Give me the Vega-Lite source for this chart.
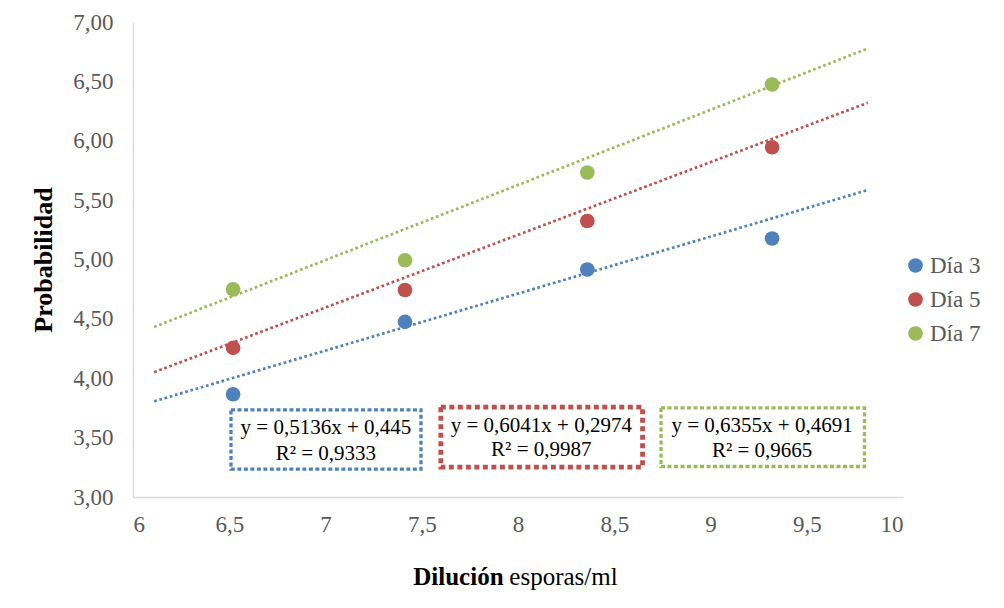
{
  "$schema": "https://vega.github.io/schema/vega-lite/v6.json",
  "width": 770,
  "height": 475,
  "autosize": {"type": "none"},
  "padding": {"left": 133, "top": 22, "right": 101, "bottom": 111},
  "background": "white",
  "config": {
    "view": {"stroke": null},
    "font": "Liberation Serif",
    "axis": {"grid": false, "ticks": false, "domainColor": "#D9D9D9", "domainWidth": 1.3, "labelColor": "#595959", "labelFont": "Liberation Serif", "labelFontSize": 23},
    "legend": {"labelFont": "Liberation Serif", "labelFontSize": 23, "labelColor": "#595959"}
  },
  "datasets": {
    "points": [
      {"serie": "Día 3", "x": 6.52, "y": 3.865},
      {"serie": "Día 3", "x": 7.413, "y": 4.475},
      {"serie": "Día 3", "x": 8.36, "y": 4.916},
      {"serie": "Día 3", "x": 9.32, "y": 5.177},
      {"serie": "Día 5", "x": 6.52, "y": 4.256},
      {"serie": "Día 5", "x": 7.413, "y": 4.743},
      {"serie": "Día 5", "x": 8.36, "y": 5.324},
      {"serie": "Día 5", "x": 9.32, "y": 5.945},
      {"serie": "Día 7", "x": 6.52, "y": 4.749},
      {"serie": "Día 7", "x": 7.413, "y": 4.994},
      {"serie": "Día 7", "x": 8.36, "y": 5.733},
      {"serie": "Día 7", "x": 9.32, "y": 6.474}
    ],
    "trends": [
      {"grupo": "Día 3", "x": 6.11, "y": 3.806},
      {"grupo": "Día 3", "x": 9.817, "y": 5.585},
      {"grupo": "Día 5", "x": 6.11, "y": 4.051},
      {"grupo": "Día 5", "x": 9.817, "y": 6.32},
      {"grupo": "Día 7", "x": 6.11, "y": 4.432},
      {"grupo": "Día 7", "x": 9.817, "y": 6.777}
    ],
    "boxes": [
      {"grupo": "Día 3", "x1": 6.509, "x2": 7.496, "y1": 3.734, "y2": 3.234, "cx": 7.002, "ty1": 3.577, "ty2": 3.365, "eq": "y = 0,5136x + 0,445", "r2": "R² = 0,9333"},
      {"grupo": "Día 5", "x1": 7.599, "x2": 8.647, "y1": 3.757, "y2": 3.251, "cx": 8.121, "ty1": 3.594, "ty2": 3.397, "eq": "y = 0,6041x + 0,2974", "r2": "R² = 0,9987"},
      {"grupo": "Día 7", "x1": 8.743, "x2": 9.8, "y1": 3.75, "y2": 3.257, "cx": 9.268, "ty1": 3.594, "ty2": 3.387, "eq": "y = 0,6355x + 0,4691", "r2": "R² = 0,9665"}
    ],
    "xtitle": [
      {"parte": "Dilución", "peso": "bold"},
      {"parte": "esporas/ml", "peso": "normal"}
    ]
  },
  "layer": [
    {
      "data": {"name": "trends"},
      "mark": {"type": "line", "strokeWidth": 2.7, "strokeDash": [2.7, 2.7], "clip": false},
      "encoding": {
        "x": {"field": "x", "type": "quantitative", "scale": {"domain": [6, 10], "nice": false, "zero": false},
          "axis": {"values": [6, 6.5, 7, 7.5, 8, 8.5, 9, 9.5, 10], "labelExpr": "replace(format(datum.value, ''), '.', ',')", "labelPadding": 16, "labelFont": "Liberation Serif", "labelFontSize": 23, "labelColor": "#595959", "title": null}},
        "y": {"field": "y", "type": "quantitative", "scale": {"domain": [3, 7], "nice": false, "zero": false},
          "axis": {"values": [3, 3.5, 4, 4.5, 5, 5.5, 6, 6.5, 7], "labelExpr": "replace(format(datum.value, '.2f'), '.', ',')", "labelPadding": 20, "labelFont": "Liberation Serif", "labelFontSize": 23, "labelColor": "#595959",
            "title": "Probabilidad", "titleFont": "Liberation Serif", "titleFontSize": 26, "titleFontWeight": "bold", "titleColor": "#000000", "titlePadding": 16}},
        "stroke": {"field": "grupo", "type": "nominal", "scale": {"range": ["#4F81BD", "#C0504D", "#9BBB59"]}, "legend": null},
        "detail": {"field": "grupo"}
      }
    },
    {
      "data": {"name": "points"},
      "mark": {"type": "point", "filled": true, "opacity": 1, "size": 215},
      "encoding": {
        "x": {"field": "x", "type": "quantitative"},
        "y": {"field": "y", "type": "quantitative"},
        "color": {"field": "serie", "type": "nominal", "scale": {"domain": ["Día 3", "Día 5", "Día 7"], "range": ["#4F81BD", "#C0504D", "#9BBB59"]},
          "legend": {"title": null, "orient": "none", "legendX": 771, "legendY": 232, "symbolType": "circle", "symbolSize": 215, "symbolOpacity": 1,
            "labelFont": "Liberation Serif", "labelFontSize": 23, "labelColor": "#595959", "rowPadding": 10, "labelOffset": 3}}
      }
    },
    {
      "data": {"name": "boxes"},
      "transform": [{"filter": "datum.grupo !== 'Día 5'"}],
      "mark": {"type": "rect", "fill": null, "fillOpacity": 0, "strokeWidth": 3.3, "strokeDash": [4, 2.5]},
      "encoding": {
        "x": {"field": "x1", "type": "quantitative"},
        "x2": {"field": "x2"},
        "y": {"field": "y1", "type": "quantitative"},
        "y2": {"field": "y2"},
        "stroke": {"field": "grupo", "type": "nominal", "legend": null}
      }
    },
    {
      "data": {"name": "boxes"},
      "transform": [{"filter": "datum.grupo === 'Día 5'"}],
      "mark": {"type": "rect", "fill": null, "fillOpacity": 0, "strokeWidth": 4.8, "strokeDash": [5, 3.5]},
      "encoding": {
        "x": {"field": "x1", "type": "quantitative"},
        "x2": {"field": "x2"},
        "y": {"field": "y1", "type": "quantitative"},
        "y2": {"field": "y2"},
        "stroke": {"field": "grupo", "type": "nominal", "legend": null}
      }
    },
    {
      "data": {"name": "boxes"},
      "mark": {"type": "text", "font": "Liberation Serif", "fontSize": 21, "color": "#000000", "align": "center", "baseline": "middle"},
      "encoding": {
        "x": {"field": "cx", "type": "quantitative"},
        "y": {"field": "ty1", "type": "quantitative"},
        "text": {"field": "eq"}
      }
    },
    {
      "data": {"name": "boxes"},
      "mark": {"type": "text", "font": "Liberation Serif", "fontSize": 21, "color": "#000000", "align": "center", "baseline": "middle"},
      "encoding": {
        "x": {"field": "cx", "type": "quantitative"},
        "y": {"field": "ty2", "type": "quantitative"},
        "text": {"field": "r2"}
      }
    },
    {
      "data": {"name": "xtitle"},
      "transform": [{"filter": "datum.peso === 'bold'"}],
      "mark": {"type": "text", "font": "Liberation Serif", "fontSize": 25, "fontWeight": "bold", "color": "#000000", "align": "right", "baseline": "middle", "clip": false},
      "encoding": {
        "x": {"datum": 7.925},
        "y": {"datum": 2.33},
        "text": {"field": "parte"}
      }
    },
    {
      "data": {"name": "xtitle"},
      "transform": [{"filter": "datum.peso === 'normal'"}],
      "mark": {"type": "text", "font": "Liberation Serif", "fontSize": 25, "color": "#000000", "align": "left", "baseline": "middle", "clip": false},
      "encoding": {
        "x": {"datum": 7.955},
        "y": {"datum": 2.33},
        "text": {"field": "parte"}
      }
    }
  ]
}
